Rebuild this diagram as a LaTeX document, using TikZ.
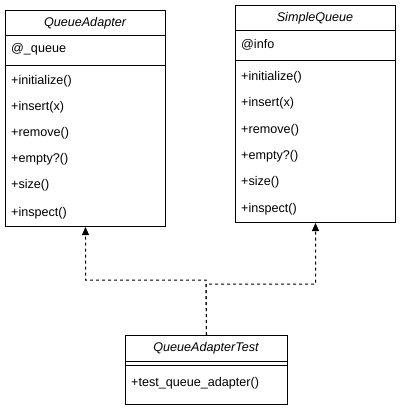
\documentclass[tikz,border=0pt]{standalone}
\usepackage{fontspec}
\setmainfont{Liberation Sans}
\usetikzlibrary{arrows.meta}
\begin{document}
\begin{tikzpicture}[x=1pt,y=-1pt,
  every node/.style={font=\fontsize{12.6}{14}\selectfont},
  umlbox/.style={draw=black, line width=1pt, inner sep=0pt, anchor=north west, fill=white},
  sepline/.style={draw=black, line width=1pt},
  hdr/.style={font=\fontsize{12.6}{14}\selectfont\itshape, inner sep=0pt, anchor=center},
  item/.style={inner sep=0pt, anchor=base west},
  dep/.style={draw=black, line width=1pt, dash pattern=on 3pt off 3pt, -{Triangle[length=8pt,width=7pt]}}
]
\useasboundingbox[fill=white] (0,0) rectangle (401,411);

% QueueAdapter
\node[umlbox, minimum width=160pt, minimum height=216pt] (qa) at (5,10) {};
\draw[sepline] (5,36) -- (165,36);
\draw[sepline] (5,66) -- (165,66);
\node[hdr] (qah) at (85,23) {QueueAdapter};
\node[item] (qa0) at (11,53) {@\_queue};
\node[item] (qa1) at (11,85) {+initialize()};
\node[item] (qa2) at (11,111) {+insert(x)};
\node[item] (qa3) at (11,137) {+remove()};
\node[item] (qa4) at (11,163) {+empty?()};
\node[item] (qa5) at (11,189) {+size()};
\node[item] (qa6) at (11,216) {+inspect()};

% SimpleQueue
\node[umlbox, minimum width=160pt, minimum height=217pt] (sq) at (235,5) {};
\draw[sepline] (235,31) -- (395,31);
\draw[sepline] (235,61) -- (395,61);
\node[hdr] (sqh) at (315,18) {SimpleQueue};
\node[item] (sq0) at (241,49) {@info};
\node[item] (sq1) at (241,81) {+initialize()};
\node[item] (sq2) at (241,107) {+insert(x)};
\node[item] (sq3) at (241,134) {+remove()};
\node[item] (sq4) at (241,160) {+empty?()};
\node[item] (sq5) at (241,186) {+size()};
\node[item] (sq6) at (241,212) {+inspect()};

% QueueAdapterTest
\node[umlbox, minimum width=162pt, minimum height=69pt] (qat) at (125,335) {};
\draw[sepline] (125,361) -- (287,361);
\draw[sepline] (125,365) -- (287,365);
\node[hdr] (qath) at (206,348) {QueueAdapterTest};
\node[item] (qat1) at (131,386) {+test\_queue\_adapter()};

% dependencies
\coordinate (j1) at (206,280);
\coordinate (j2) at (206,284);
\draw[dep] (qat.north) -- (j1) -| (qa.south);
\draw[dep] (qat.north) -- (j2) -| (sq.south);
\end{tikzpicture}
\end{document}
